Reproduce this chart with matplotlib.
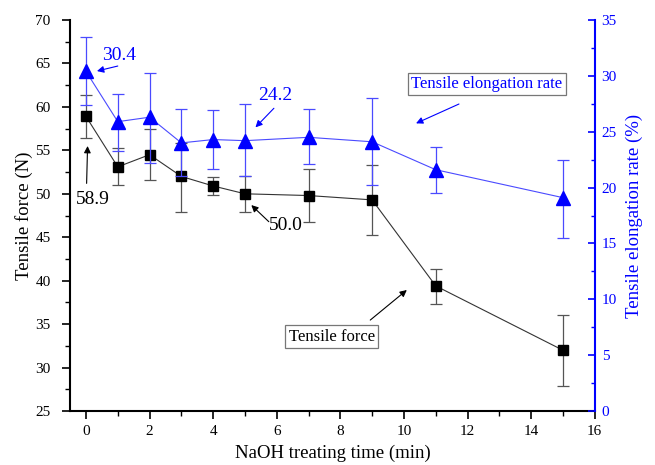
import matplotlib
matplotlib.use("Agg")
import matplotlib.pyplot as plt
from matplotlib.ticker import MultipleLocator

plt.rcParams['font.family'] = ['Liberation Serif', 'DejaVu Serif']
plt.rcParams['mathtext.fontset'] = 'stix'

# ---- data ----
time_min = [0, 1, 2, 3, 4, 5, 7, 9, 11, 15]
force_N = [58.9, 53.1, 54.5, 52.0, 50.9, 50.0, 49.8, 49.3, 39.4, 32.0]
force_err_hi = [61.4, 55.3, 57.5, 55.9, 51.9, 52.05, 52.8, 53.3, 41.3, 36.0]
force_err_lo = [56.4, 51.0, 51.6, 47.9, 49.9, 47.9, 46.8, 45.3, 37.3, 27.9]
elong_pct = [30.4, 25.9, 26.3, 24.0, 24.3, 24.2, 24.5, 24.1, 21.6, 19.1]
elong_err_hi = [33.5, 28.4, 30.3, 27.0, 26.9, 27.5, 27.0, 28.0, 23.6, 22.5]
elong_err_lo = [27.4, 23.3, 22.2, 21.0, 21.7, 21.0, 22.1, 20.2, 19.5, 15.5]

force_yerr = [[v - lo for v, lo in zip(force_N, force_err_lo)],
              [hi - v for v, hi in zip(force_N, force_err_hi)]]
elong_yerr = [[v - lo for v, lo in zip(elong_pct, elong_err_lo)],
              [hi - v for v, hi in zip(elong_pct, elong_err_hi)]]

BLUE = '#0000ff'

fig = plt.figure(figsize=(6.55, 4.65), dpi=100)
ax = fig.add_axes([0.107, 0.116, 0.801, 0.841])
ax2 = ax.twinx()

# force series
ax.errorbar(time_min, force_N, yerr=force_yerr, fmt='none', ecolor='#555555',
            elinewidth=0.9, capsize=4, capthick=0.9, zorder=2)
ax.plot(time_min, force_N, color='#333333', lw=0.8, marker='s', markersize=7.5,
        markerfacecolor='black', markeredgecolor='black', zorder=3)

# elongation series
ax2.errorbar(time_min, elong_pct, yerr=elong_yerr, fmt='none', ecolor='#4a4aff',
             elinewidth=0.9, capsize=4, capthick=0.9, zorder=2)
ax2.plot(time_min, elong_pct, color='#4a4aff', lw=0.8, marker='^', markersize=9.5,
         markerfacecolor=BLUE, markeredgecolor=BLUE, zorder=3)

# axes limits & ticks
ax.set_xlim(-0.5, 16)
ax.set_ylim(25, 70)
ax2.set_ylim(0, 35)
ax.xaxis.set_major_locator(MultipleLocator(2))
ax.xaxis.set_minor_locator(MultipleLocator(1))
ax.yaxis.set_major_locator(MultipleLocator(5))
ax.yaxis.set_minor_locator(MultipleLocator(2.5))
ax2.yaxis.set_major_locator(MultipleLocator(5))
ax2.yaxis.set_minor_locator(MultipleLocator(2.5))

for a in (ax, ax2):
    a.spines['top'].set_visible(False)
ax.spines['right'].set_visible(False)
ax.spines['left'].set_linewidth(1.5)
ax.spines['bottom'].set_linewidth(1.5)
ax2.spines['left'].set_visible(False)
ax2.spines['bottom'].set_visible(False)
ax2.spines['right'].set_linewidth(1.5)
ax2.spines['right'].set_color(BLUE)

ax.tick_params(axis='x', which='major', direction='out', length=6, width=1.2,
               labelsize=11, colors='black', pad=4)
ax.tick_params(axis='y', which='major', direction='out', length=6, width=1.2,
               labelsize=11, colors='black', pad=8)
ax.tick_params(axis='both', which='minor', direction='out', length=3.5, width=1.0)
ax2.tick_params(axis='y', which='major', direction='in', length=5, width=1.2,
                labelsize=11, colors=BLUE, pad=5)
ax2.tick_params(axis='y', which='minor', direction='in', length=3, width=1.0,
                colors=BLUE)

ax.set_xlabel('NaOH treating time (min)', fontsize=13.5, labelpad=5)
ax.set_ylabel('Tensile force (N)', fontsize=13.5, labelpad=2)
ax2.set_ylabel('Tensile elongation rate (%)', fontsize=13.5, color=BLUE, labelpad=6)

arrow_k = dict(arrowstyle='-|>', color='black', lw=0.8, mutation_scale=10,
               shrinkA=0, shrinkB=0)
arrow_b = dict(arrowstyle='-|>', color=BLUE, lw=0.8, mutation_scale=10,
               shrinkA=0, shrinkB=0)

# value annotations
ax2.text(1.04, 31.85, '30.4', color=BLUE, fontsize=14, ha='center', va='center')
ax2.annotate('', xy=(0.345, 30.43), xytext=(1.0, 30.88), arrowprops=arrow_b)
ax2.text(5.96, 28.2, '24.2', color=BLUE, fontsize=14, ha='center', va='center')
ax2.annotate('', xy=(5.33, 25.39), xytext=(5.91, 27.1), arrowprops=arrow_b)
ax.text(0.21, 49.3, '58.9', color='black', fontsize=14, ha='center', va='center')
ax.annotate('', xy=(0.05, 55.5), xytext=(0.02, 51.2), arrowprops=arrow_k)
ax.text(6.27, 46.3, '50.0', color='black', fontsize=14, ha='center', va='center')
ax.annotate('', xy=(5.2, 48.7), xytext=(5.75, 46.79), arrowprops=arrow_k)

# series label boxes
ax2.text(12.61, 29.27, 'Tensile elongation rate', color=BLUE, fontsize=12,
         ha='center', va='center',
         bbox=dict(boxstyle='square,pad=0.2', facecolor='white', edgecolor='#777777', lw=0.9))
ax2.annotate('', xy=(10.38, 25.75), xytext=(11.73, 27.48), arrowprops=arrow_b)
ax.text(7.73, 33.55, 'Tensile force', color='black', fontsize=12,
        ha='center', va='center',
        bbox=dict(boxstyle='square,pad=0.2', facecolor='white', edgecolor='#777777', lw=0.9))
ax.annotate('', xy=(10.09, 38.93), xytext=(8.94, 35.47), arrowprops=arrow_k)

fig.savefig('out.png', dpi=100)
